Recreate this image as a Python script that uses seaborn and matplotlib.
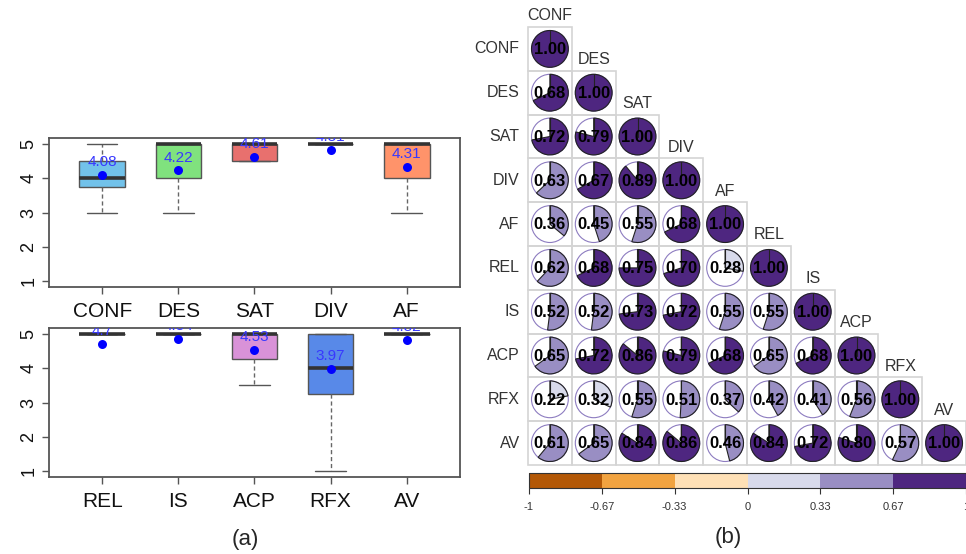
import numpy as np
import matplotlib
matplotlib.use("Agg")
import matplotlib.pyplot as plt
import matplotlib.colorbar as mcolorbar
from matplotlib.colors import ListedColormap, BoundaryNorm
from matplotlib.patches import Wedge, Circle, Rectangle
import seaborn as sns
import pandas as pd

# ---------------- data ----------------
vars_top = ["CONF", "DES", "SAT", "DIV", "AF"]
whislo_top = [3, 3, 4.5, 5, 3]
q1_top = [3.75, 4, 4.5, 5, 4]
med_top = [4, 5, 5, 5, 5]
q3_top = [4.5, 5, 5, 5, 5]
whishi_top = [5, 5, 5, 5, 5]
mean_top = [4.08, 4.22, 4.61, 4.81, 4.31]
colors_top = ["#72C2EA", "#80E27E", "#E8706E", "#CCCCCC", "#FF936A"]

vars_bot = ["REL", "IS", "ACP", "RFX", "AV"]
whislo_bot = [5, 5, 3.5, 1, 5]
q1_bot = [5, 5, 4.25, 3.25, 5]
med_bot = [5, 5, 5, 4, 5]
q3_bot = [5, 5, 5, 5, 5]
whishi_bot = [5, 5, 5, 5, 5]
mean_bot = [4.70, 4.84, 4.53, 3.97, 4.82]
colors_bot = ["#CCCCCC", "#CCCCCC", "#D992D8", "#5889E8", "#CCCCCC"]

corr_names = ["CONF", "DES", "SAT", "DIV", "AF", "REL", "IS", "ACP", "RFX", "AV"]
corr_lower = [
    [1.00],
    [0.68, 1.00],
    [0.72, 0.79, 1.00],
    [0.63, 0.67, 0.89, 1.00],
    [0.36, 0.45, 0.55, 0.68, 1.00],
    [0.62, 0.68, 0.75, 0.70, 0.28, 1.00],
    [0.52, 0.52, 0.73, 0.72, 0.55, 0.55, 1.00],
    [0.65, 0.72, 0.86, 0.79, 0.68, 0.65, 0.68, 1.00],
    [0.22, 0.32, 0.55, 0.51, 0.37, 0.42, 0.41, 0.56, 1.00],
    [0.61, 0.65, 0.84, 0.86, 0.46, 0.84, 0.72, 0.80, 0.57, 1.00],
]
cbar_bounds = [-1, -0.67, -0.33, 0, 0.33, 0.67, 1]
cbar_colors = ["#B35806", "#F1A340", "#FEE0B6", "#D8DAEB", "#998EC3", "#4E2680"]
cbar_ticklabels = ["-1", "-0.67", "-0.33", "0", "0.33", "0.67", "1"]

# ---------------- style ----------------
sns.set_style("white")
plt.rcParams["font.family"] = ["Liberation Sans", "DejaVu Sans"]

W, H = 966, 554
fig = plt.figure(figsize=(W / 100, H / 100), dpi=100)


def px_axes(l, t, r, b):
    return fig.add_axes([l / W, 1 - b / H, (r - l) / W, (b - t) / H])


def draw_box_panel(ax, names, wlo, q1, med, q3, whi, means, cols):
    pos = np.arange(1, len(names) + 1)
    stats = [dict(whislo=a, q1=b, med=c, q3=d, whishi=e, fliers=[])
             for a, b, c, d, e in zip(wlo, q1, med, q3, whi)]
    bp = ax.bxp(stats, positions=pos, widths=0.6, capwidths=0.4,
                patch_artist=True, showfliers=False,
                boxprops=dict(edgecolor="#555555", linewidth=1.0),
                medianprops=dict(color="#333333", linewidth=2.6, solid_capstyle="butt"),
                whiskerprops=dict(color="#666666", linewidth=1.0, linestyle=(0, (3, 2))),
                capprops=dict(color="#555555", linewidth=1.0))
    for patch, c in zip(bp["boxes"], cols):
        patch.set_facecolor(c)
    df = pd.DataFrame({"x": pos, "mean": means})
    sns.scatterplot(data=df, x="x", y="mean", ax=ax, color="blue", s=42,
                    edgecolor="blue", linewidth=0, zorder=5, legend=False)
    for x, m in zip(pos, means):
        ax.text(x, m + 0.17, str(round(m, 2)), color="#3838FF", fontsize=11,
                ha="center", va="bottom", clip_on=True, zorder=6)
    ax.set_xlim(0.3, 5.7)
    ax.set_ylim(0.84, 5.16)
    ax.set_xticks(pos)
    ax.set_xticklabels(names, fontsize=15, color="#111111")
    ax.set_yticks([1, 2, 3, 4, 5])
    ax.set_yticklabels(["1", "2", "3", "4", "5"], fontsize=13, rotation=90,
                       va="center", color="#111111")
    ax.tick_params(axis="both", direction="out", length=5, width=1, color="#555555",
                   left=True, bottom=True)
    ax.tick_params(axis="x", pad=6)
    ax.set_xlabel("")
    ax.set_ylabel("")
    for s in ax.spines.values():
        s.set_color("#555555")
        s.set_linewidth(1.3)


ax1 = px_axes(49, 138, 460, 287)
draw_box_panel(ax1, vars_top, whislo_top, q1_top, med_top, q3_top, whishi_top,
               mean_top, colors_top)
ax2 = px_axes(49, 328, 460, 477)
draw_box_panel(ax2, vars_bot, whislo_bot, q1_bot, med_bot, q3_bot, whishi_bot,
               mean_bot, colors_bot)
fig.text(245 / W, 1 - 540 / H, "(a)", fontsize=16, ha="center", va="center")

# ---------------- correlation panel ----------------
n = len(corr_names)
mat = np.full((n, n), np.nan)
for i, row in enumerate(corr_lower):
    for j, v in enumerate(row):
        mat[i, j] = v
cdf = pd.DataFrame(mat, index=corr_names, columns=corr_names)
mask = np.triu(np.ones((n, n), dtype=bool), k=1)

axc = px_axes(528, 27, 966, 465)
sns.heatmap(cdf, mask=mask, cmap=ListedColormap(["white"]), cbar=False,
            linewidths=0, ax=axc, xticklabels=False, yticklabels=corr_names)
axc.tick_params(axis="y", length=0, pad=6)
for lab in axc.get_yticklabels():
    lab.set_fontsize(11.5)
    lab.set_color("#333333")
    lab.set_rotation(0)
axc.set_xlabel("")
axc.set_ylabel("")

bounds = np.array(cbar_bounds)
for i, row in enumerate(corr_lower):
    for j, v in enumerate(row):
        axc.add_patch(Rectangle((j, i), 1, 1, facecolor="none", edgecolor="#D4D4D4",
                                linewidth=1.2, zorder=2, clip_on=False))
for i, row in enumerate(corr_lower):
    for j, v in enumerate(row):
        cx, cy = j + 0.5, i + 0.5
        r = 0.42
        k = int(np.clip(np.digitize(v, bounds) - 1, 0, len(cbar_colors) - 1))
        col = cbar_colors[k]
        axc.add_patch(Circle((cx, cy), r, facecolor="white", edgecolor="#8D7CC0",
                             linewidth=0.8, zorder=3))
        if v >= 0.999:
            axc.add_patch(Circle((cx, cy), r, facecolor=col, edgecolor="#222222",
                                 linewidth=0.8, zorder=4))
        else:
            axc.add_patch(Wedge((cx, cy), r, -90, -90 + 360 * v, facecolor=col,
                                edgecolor="#222222", linewidth=0.8, zorder=4))
        axc.plot([cx, cx], [cy, cy - r], color="#222222", linewidth=0.8, zorder=5)
        axc.text(cx, cy + 0.02, f"{v:.2f}", fontsize=12, fontweight="bold",
                 color="black", ha="center", va="center", zorder=6)
    axc.text(i + 0.5, i - 0.08, corr_names[i], fontsize=11.5, color="#333333",
             ha="center", va="bottom", clip_on=False)

axc.set_xlim(0, n)
axc.set_ylim(n, 0)
for s in axc.spines.values():
    s.set_visible(False)

# colour bar
axb = px_axes(529, 473, 966, 488)
cmap_b = ListedColormap(cbar_colors)
norm_b = BoundaryNorm(cbar_bounds, cmap_b.N)
cb = mcolorbar.ColorbarBase(axb, cmap=cmap_b, norm=norm_b, orientation="horizontal",
                            ticks=cbar_bounds, boundaries=cbar_bounds)
cb.set_ticklabels(cbar_ticklabels)
cb.outline.set_linewidth(0.8)
cb.outline.set_edgecolor("#333333")
axb.tick_params(axis="x", length=4, width=0.8, labelsize=8, labelcolor="#333333",
                pad=6, direction="out", color="#333333")

fig.text(728 / W, 1 - 538 / H, "(b)", fontsize=16, ha="center", va="center")

fig.savefig("out.png", dpi=100)
